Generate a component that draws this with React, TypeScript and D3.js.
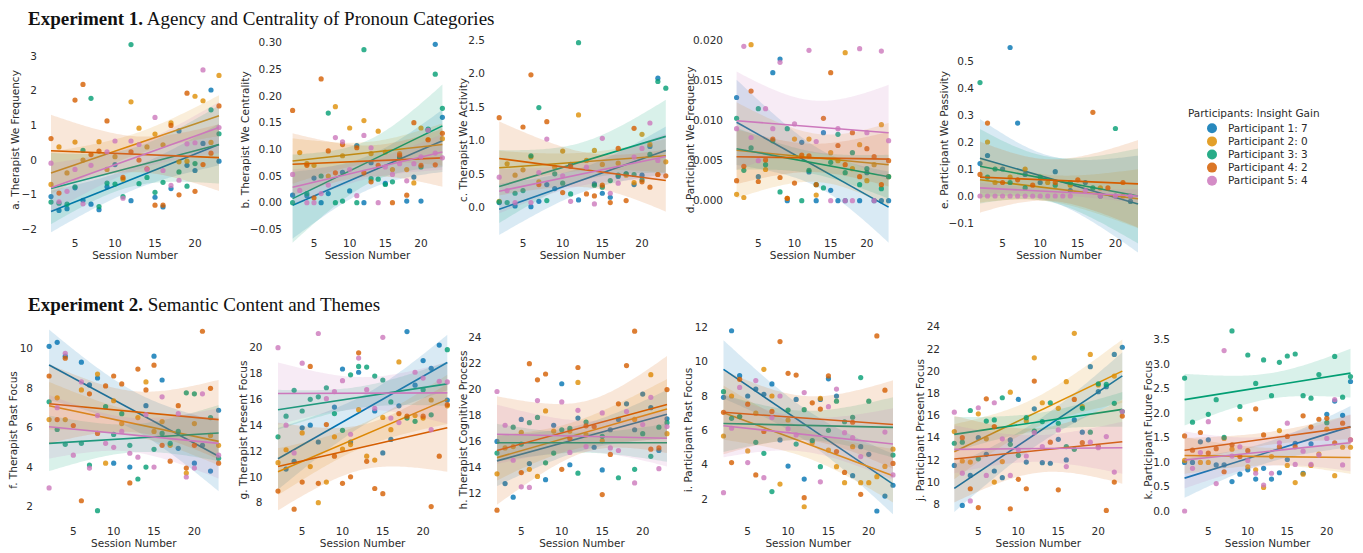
import React from 'react';
import * as d3 from 'd3';

// sessions 2..23, one value per session (null = no point read)
const SESSIONS = [2, 3, 4, 5, 6, 7, 8, 9, 10, 11, 12, 13, 14, 15, 16, 17, 18, 19, 20, 21, 22, 23];
const PARTICIPANTS = ['Participant 1: 7', 'Participant 2: 0', 'Participant 3: 3', 'Participant 4: 2', 'Participant 5: 4'];
const COLORS = ['#0173B2', '#DE8F05', '#029E73', '#D55E00', '#CC78BC'];
const X_TICKS = [5, 10, 15, 20];

type Row = (number | null)[];

// a. Therapist We Frequency
const A_VALUES: Row[] = [
  [-1.05, -1.45, -1.4, -0.8, -1.16, -1.27, -1.43, -0.77, -0.13, null, -1.17, null, null, -1.07, -1.35, -0.82, 0.84, -0.15, -0.3, 0.48, 2.02, -0.03],
  [-0.7, 0.38, -0.37, 0.52, 0, null, 0.53, -0.27, 0.1, -0.55, 1.68, 0.92, 0.38, 0.75, 0.44, 1.07, -0.05, -0.03, 1.84, 1.71, 0.51, 2.44],
  [-1.21, -1.24, -1.27, -0.77, 0.28, 1.78, -1.34, -0.66, -0.69, -1.05, 3.33, -0.68, -0.5, -0.93, -0.64, null, -0.34, -0.75, -0.1, null, 1.45, 0.76],
  [0.62, -0.95, null, 1.73, 2.18, 0.16, 0.26, 1.13, null, -0.5, 0.24, 0, -0.25, -1.3, -1.3, 1.0, -1.0, 1.93, -0.9, -0.13, 0.2, 1.56],
  [-0.09, -1.2, -0.9, -0.27, -1.26, -0.15, null, 0.24, 0.55, -1.1, 0.55, 0.45, -0.27, 1.23, -0.3, -0.73, -0.58, 0.47, 0.5, 2.6, null, 0.94],
];
const A_FIT = [[-1.48, 0.45], [-0.37, 1.28], [-0.82, 0.45], [0.27, 0.07], [-0.8, 0.94]];

// b. Therapist We Centrality
const B_VALUES: Row[] = [
  [0.014, null, 0.013, 0.046, 0, 0.017, null, 0.057, 0.022, 0.107, 0, 0.075, null, 0.036, null, 0.086, 0.003, 0.048, 0.003, 0.136, 0.297, 0.16],
  [null, 0.094, 0.073, 0.07, null, 0.05, 0.18, 0.088, 0.14, null, 0.154, 0.092, 0.134, 0.095, 0.062, 0.092, 0.062, 0.037, 0.14, 0.118, null, 0.12],
  [0, null, 0.017, null, 0.05, 0.168, 0, 0.003, null, 0, 0.287, 0.045, 0.044, 0.034, 0.039, 0.084, null, null, 0.067, 0.138, 0.241, 0.177],
  [0.173, null, 0.07, 0.009, 0.232, 0.097, 0.056, 0.109, null, 0.103, 0.056, 0.039, 0.07, null, 0, 0.089, 0.014, 0.15, 0.07, 0.118, 0.071, 0.13],
  [0.053, 0.023, 0, 0, 0.017, 0.033, 0.122, 0.114, 0.062, 0.013, 0.126, 0.103, 0, 0.067, 0.053, 0.073, 0.041, 0.073, 0.086, 0.136, 0.093, 0.084],
];
const B_FIT = [[-0.005, 0.116], [0.078, 0.109], [0.0075, 0.144], [0.072, 0.084], [0.029, 0.095]];

// c. Therapist We Activity
const C_VALUES: Row[] = [
  [0.07, null, 0.02, null, 0.01, 0.09, 0.34, 0.28, null, 0.64, 0.11, null, 0.35, 0.21, 0.15, 0.46, 0.5, 0.34, 0.48, 0.91, 1.93, null],
  [0.09, 0.65, 0.48, 0.56, 0.75, 0.38, null, 0.6, 0.84, null, 1.38, 0.7, 0.85, 0.64, null, 0.66, 0.48, 0.37, 1.09, 0.94, 0.49, 0.68],
  [0.08, 0.07, 0.21, 0.25, 0.77, 1.49, 0.1, 0.5, 0.36, 0.2, 2.46, null, 0.33, 0.3, 0.4, 0.48, 0.5, 0.49, 0.41, 0.79, 1.88, 1.78],
  [1.34, null, null, 1.2, 1.98, 0.34, 1.28, null, 0.22, 0.61, null, 0.2, 0.17, 0.33, 0.07, 0.88, 0.1, 1.18, 0.38, 0.3, 0.49, 0.47],
  [0.45, 0.25, 0.07, null, 0.07, 0.52, 1.02, null, 0.47, 0.09, null, 0.6, 0.05, 1.03, 0.21, 0.36, null, 0.75, 0.88, 1.26, 0.7, null],
];
const C_FIT = [[-0.03, 0.85], [0.59, 0.77], [0.31, 1.06], [0.73, 0.4], [0.24, 0.76]];

// d. Participant We Frequency
const D_VALUES: Row[] = [
  [0.0129, null, null, 0.003, null, 0.016, 0.0177, 0, null, 0.0073, 0.0036, 0, 0.0085, 0.0013, 0, 0, null, 0, 0.0035, 0, 0, 0],
  [0.0008, 0.0004, 0.0195, null, 0.0039, null, null, 0.0003, 0.0077, null, 0.0077, 0.0007, null, 0.006, 0.005, 0.0185, 0.004, 0.007, 0.0025, 0.0045, 0.0095, 0.003],
  [0.0103, 0.0038, 0.0066, 0.0115, 0.0045, 0.0075, 0.0011, 0.009, null, 0, 0.0038, 0.002, 0.0016, 0.0048, 0.0083, 0.0035, 0.006, 0.002, 0.004, null, 0.0015, 0.003],
  [0.0025, 0.0043, 0.0137, 0.0024, 0.0051, 0.0077, 0.0029, 0.0003, 0.0022, 0.0057, 0.0056, 0.002, 0.0103, 0.016, 0.0069, 0.0045, 0.0085, 0.003, 0.0065, 0.0055, 0.002, 0.005],
  [0.009, 0.0193, 0.0079, 0.005, 0.0115, 0.009, 0.0173, null, 0.0096, null, 0.0188, 0.0074, null, 0, 0.009, 0, 0, 0.019, 0.0085, 0, 0.0187, 0.0075],
];
const D_FIT = [[0.0098, -0.0008], [0.0063, 0.0045], [0.0065, 0.003], [0.0055, 0.0052], [0.01, 0.0085]];

// e. Participant We Passivity
const E_VALUES: Row[] = [
  [0.12, 0.15, null, 0.1, 0.55, 0.27, 0.08, null, 0.05, null, 0.09, null, 0.02, null, 0.05, null, 0, null, 0, null, -0.02, null],
  [null, 0.2, 0.05, null, 0.07, null, 0.1, null, null, 0.05, null, null, 0.04, null, null, null, 0.03, null, null, 0, null, null],
  [0.42, 0.07, 0.1, null, 0.05, null, 0.03, null, 0.07, null, 0.04, null, 0.05, null, null, 0.03, null, null, 0.25, null, 0, null],
  [0.08, 0.27, null, 0.05, null, 0.06, null, 0.04, null, null, 0.05, null, null, 0.06, null, 0.31, null, 0.03, null, 0.05, null, null],
  [0, 0, 0, 0, 0, 0, 0, 0, 0, 0, 0, 0, 0, null, 0.02, null, 0, null, 0, null, 0, null],
];
const E_FIT = [[0.14, -0.03], [0.06, -0.01], [0.11, 0], [0.07, 0.045], [0.03, 0]];

// f. Therapist Past Focus
const F_VALUES: Row[] = [
  [10.1, 10.3, 9.6, null, 9.3, 8.15, 8.5, null, 4.2, null, 4.0, null, 7.1, 9.6, 8.4, null, 4.95, null, 4.2, 5.1, 3.8, 6.87],
  [6.4, 7.5, 6.4, null, 7.9, null, 8.7, 4.2, 7.35, 6.2, null, 6.5, 8.3, 5.8, 6.3, 5.1, null, 3.7, 6.2, null, 5.6, 5.1],
  [7.3, 5.9, 5.15, null, 5.2, 4.1, 1.8, 7.05, 5.65, 6.7, 5.1, 3.4, 4.0, 4.9, 5.7, 5.2, 5.8, 7.75, 7.7, null, 6.5, 4.45],
  [8.6, 6.4, 9.5, 6.1, 2.3, 7.7, 5.7, 8.1, 8.6, 8.2, 3.2, 8.95, 7.9, 9.15, 5.1, 4.3, 7.1, 3.95, 5.1, 10.86, 7.98, 4.2],
  [2.95, 7.0, 9.75, 4.6, 8.3, 3.95, 6.6, 5.2, 5.0, 5.8, 4.7, 4.5, 6.65, 4.0, 7.55, null, 6.7, 3.5, 3.95, 7.7, null, 4.6],
];
const F_FIT = [[9.16, 4.55], [7.1, 5.3], [5.2, 5.72], [7.2, 6.4], [6.04, 5.2]];

// g. Therapist Present Focus
const G_VALUES: Row[] = [
  [null, 10.6, 11.2, 13.8, 14.0, 12.7, null, 15.4, 18.35, 12.7, 18.1, null, 15.1, 11.85, 12.9, 15.5, 21.25, 17.1, 19.0, 18.4, 20.2, 15.95],
  [11.1, 12.1, null, 13.4, 10.8, 8.0, 9.6, 13.1, 12.15, 12.5, 15.2, 11.6, 11.3, 14.6, 13.65, 18.9, null, 14.75, 14.55, 15.95, null, 15.5],
  [13.1, 14.7, 16.7, 15.1, 16.0, 16.2, 16.9, 14.9, 13.6, 17.9, 18.55, 18.5, 17.8, 17.5, 15.8, null, 14.55, 14.3, 16.75, 14.8, null, 19.85],
  [8.9, null, 7.5, 9.6, 18.55, 9.5, 14.05, 11.6, 9.5, 10.0, 19.6, 11.2, 9.1, 8.7, null, 14.9, 14.7, null, 14.7, 7.7, 11.6, 15.6],
  [20.0, 14.0, 11.85, 18.8, null, 21.1, 16.05, 16.6, 17.45, 13.3, 19.2, 16.75, 15.3, 20.8, 14.55, 14.2, null, 18.1, 17.65, 13.65, 17.4, 17.35],
];
const G_FIT = [[11.4, 18.85], [10.4, 16.0], [15.2, 17.2], [10.8, 13.8], [16.45, 16.5]];

// h. Therapist Cognitive Process
const H_VALUES: Row[] = [
  [16.0, 12.75, 11.7, 17.7, 14.3, null, 13.05, 17.25, 20.45, 14.2, 17.8, null, 15.55, 13.8, 16.9, 17.7, 18.9, 16.9, 19.65, 18.6, 15.3, 17.75],
  [13.5, 15.5, 15.6, 16.7, 13.85, 13.3, 18.35, 16.8, null, 16.8, 20.55, 16.5, null, 16.05, null, null, null, 17.7, null, 21.15, null, 16.6],
  [15.1, null, 17.1, 15.8, 17.45, 17.85, 14.35, 15.1, 16.9, 17.0, 13.55, 17.5, null, 16.4, null, 13.2, null, 13.85, 16.6, 14.85, 17.1, 17.45],
  [10.7, null, null, 13.6, 22.0, 20.75, 21.2, null, 13.85, 16.25, 21.7, 17.2, 17.15, 11.9, 15.0, 18.9, 21.85, 24.5, null, 15.4, 15.5, 20.0],
  [19.85, 17.25, 14.55, 12.5, 12.45, 19.15, null, null, 19.05, 15.15, 18.4, 15.6, null, 18.2, 15.5, 15.3, 18.3, 12.8, 17.3, 19.4, 13.9, 17.15],
];
const H_FIT = [[14.5, 18.1], [14.75, 18.5], [15.9, 15.9], [15.3, 18.85], [16.55, 16.25]];

// i. Participant Past Focus
const I_VALUES: Row[] = [
  [7.92, 11.8, 9.18, 8.0, 8.4, 8.1, 8.7, 5.44, 3.92, 7.8, 3.16, null, 7.8, 9.0, 8.0, null, 3.36, 5.05, 4.6, 1.3, 2.17, 2.8],
  [5.67, 8.0, 6.8, 4.8, 7.0, 9.55, 8.0, 2.87, 6.6, null, 1.55, 5.28, 7.86, 4.85, 3.88, 2.95, 5.05, 2.95, 2.95, 3.3, 3.9, 4.9],
  [8.25, 6.7, 6.8, null, 5.3, 4.66, 2.43, null, 7.18, 5.2, 7.2, 5.4, 3.88, 6.0, 7.7, 6.5, 6.76, 9.07, 7.7, null, null, 4.56],
  [7.05, 4.12, 8.97, 7.52, 3.4, 5.93, 7.1, 11.17, 9.32, 9.22, 2.08, 7.6, 7.24, 9.17, 4.76, 3.55, 6.47, 2.27, null, 11.5, 8.34, 4.07],
  [2.37, 6.12, 8.5, 4.12, 8.9, 3.24, 6.74, 8.0, 6.08, 5.73, 8.2, null, 3.0, 7.38, 8.4, 5.86, 5.57, 4.47, null, null, 5.9, 3.4],
];
const I_FIT = [[9.55, 2.87], [7.03, 3.36], [6.4, 6.17], [7.05, 6.34], [6.27, 5.2]];

// j. Participant Present Focus
const J_VALUES: Row[] = [
  [11.5, 7.9, 10.6, 14.0, 12.5, 11.0, 10.4, 13.8, 17.45, 11.8, 16.6, 11.75, 11.7, 13.85, 12.0, 15.6, 14.5, 20.4, 18.15, 18.6, 21.5, 22.15],
  [14.55, 11.9, 11.8, 16.15, 13.9, 10.0, 11.85, 18.1, null, 15.5, 21.2, 17.15, null, 16.65, 19.05, 23.4, 16.8, 21.5, 18.75, null, 19.55, null],
  [13.5, 13.6, 16.45, 12.1, 15.5, 15.6, 17.6, 13.4, 12.4, 15.8, 14.6, 15.45, 17.15, 15.3, 13.2, 12.95, 16.65, 14.5, 18.85, 18.8, 17.1, 16.35],
  [null, 14.0, 9.4, 7.7, 17.5, 15.0, null, 7.6, 10.25, 9.4, 19.1, null, 13.6, 9.3, null, 17.45, 13.55, null, 13.2, 7.45, 10.0, 15.95],
  [16.3, 10.8, 8.3, 16.7, 10.6, 17.15, 13.9, 10.6, 12.9, 12.35, 14.45, 13.2, null, 14.7, 11.4, null, null, 13.6, 13.1, 14.1, 10.9, 16.35],
];
const J_FIT = [[9.44, 19.57], [12.74, 20.0], [14.3, 16.55], [12.08, 13.63], [12.95, 13.1]];

// k. Participant Future Focus
const K_VALUES: Row[] = [
  [0.99, 0.99, 1.41, 1.45, 0.94, 0.94, 0.6, 0.75, 0.84, 0.65, 0.87, 0.65, 0.78, 1.05, 1.38, 0.77, 1.37, null, 1.97, 2.24, 1.95, 2.64],
  [1.03, null, 0.99, 0.99, null, 1.48, 1.26, 1.87, 0.9, 0.84, 0.48, 1.11, 1.64, 0.93, 0.58, 0.75, 0.93, 1.16, 1.67, 0.72, 1.3, 1.3],
  [2.71, 1.81, null, 1.97, 2.27, 1.5, 3.67, 2.13, 3.18, 2.6, 3.08, 2.35, 3.03, 3.16, 3.2, 2.35, 2.3, 2.78, 1.8, 3.15, 2.32, 2.74],
  [1.53, 1.24, 1.6, 1.18, 1.27, 0.8, 1.35, 1.11, 1.23, 2.08, 1.55, null, 1.31, 1.52, 1.31, 1.94, 1.71, 1.87, 1.89, 1.39, 1.79, 1.45],
  [0, 0.87, 1.19, 1.82, 0.56, 3.27, 1.12, 1.31, 1.03, 0.77, 0.53, 0.77, 1.39, 1.79, 0.95, 1.22, 0.95, 1.14, 1.48, 2.27, 0.94, 1.45],
];
const K_FIT = [[0.67, 1.72], [1.13, 1.09], [2.27, 2.81], [1.24, 1.71], [1.04, 1.39]];

const PANELS = [
  { label: 'a. Therapist We Frequency', values: A_VALUES, fit: A_FIT, ticks: [-2, -1, 0, 1, 2, 3], fmt: '' },
  { label: 'b. Therapist We Centrality', values: B_VALUES, fit: B_FIT, ticks: [-0.05, 0, 0.05, 0.1, 0.15, 0.2, 0.25, 0.3], fmt: '.2f' },
  { label: 'c. Therapist We Activity', values: C_VALUES, fit: C_FIT, ticks: [0, 0.5, 1, 1.5, 2, 2.5], fmt: '.1f' },
  { label: 'd. Participant We Frequency', values: D_VALUES, fit: D_FIT, ticks: [0, 0.005, 0.01, 0.015, 0.02], fmt: '.3f' },
  { label: 'e. Participant We Passivity', values: E_VALUES, fit: E_FIT, ticks: [-0.1, 0, 0.1, 0.2, 0.3, 0.4, 0.5], fmt: '.1f' },
  { label: 'f. Therapist Past Focus', values: F_VALUES, fit: F_FIT, ticks: [2, 4, 6, 8, 10], fmt: '' },
  { label: 'g. Therapist Present Focus', values: G_VALUES, fit: G_FIT, ticks: [8, 10, 12, 14, 16, 18, 20], fmt: '' },
  { label: 'h. Therapist Cognitive Process', values: H_VALUES, fit: H_FIT, ticks: [12, 14, 16, 18, 20, 22, 24], fmt: '' },
  { label: 'i. Participant Past Focus', values: I_VALUES, fit: I_FIT, ticks: [2, 4, 6, 8, 10, 12], fmt: '' },
  { label: 'j. Participant Present Focus', values: J_VALUES, fit: J_FIT, ticks: [8, 10, 12, 14, 16, 18, 20, 22, 24], fmt: '' },
  { label: 'k. Participant Future Focus', values: K_VALUES, fit: K_FIT, ticks: [0, 0.5, 1, 1.5, 2, 2.5, 3, 3.5], fmt: '.1f' },
];

// pixel layout of each axes: x range for sessions 2..23, two reference ticks for y
const LAYOUT = [
  { x0: 51, x1: 219, v0: 3, p0: 56, v1: -2, p1: 229.5, tickX: 37, labelX: 15, row: 0 },
  { x0: 292.6, x1: 442.4, v0: 0.3, p0: 42.7, v1: -0.05, p1: 229.3, tickX: 282, labelX: 245, row: 0 },
  { x0: 499.2, x1: 665.8, v0: 2.5, p0: 40, v1: 0, p1: 207.3, tickX: 485, labelX: 463, row: 0 },
  { x0: 736.6, x1: 888.6, v0: 0.02, p0: 40.7, v1: 0, p1: 200.7, tickX: 723, labelX: 690, row: 0 },
  { x0: 980, x1: 1138, v0: 0.5, p0: 61, v1: 0, p1: 196, tickX: 974, labelX: 944, row: 0 },
  { x0: 49.1, x1: 218.6, v0: 10, p0: 348.3, v1: 2, p1: 506.7, tickX: 33, labelX: 13, row: 1 },
  { x0: 278, x1: 447.3, v0: 20, p0: 347.7, v1: 8, p1: 502.7, tickX: 262.5, labelX: 243.3, row: 1 },
  { x0: 497, x1: 667, v0: 24, p0: 337.7, v1: 12, p1: 493.3, tickX: 481.5, labelX: 463.3, row: 1 },
  { x0: 723.5, x1: 893, v0: 12, p0: 327.3, v1: 2, p1: 499, tickX: 708, labelX: 688, row: 1 },
  { x0: 954.3, x1: 1122.3, v0: 24, p0: 326.7, v1: 8, p1: 504.3, tickX: 940, labelX: 920, row: 1 },
  { x0: 1184.6, x1: 1350.5, v0: 3.5, p0: 339.3, v1: 0, p1: 511, tickX: 1170, labelX: 1148.3, row: 1 },
];

const ROWS = [
  { tickY: 247, titleY: 259, labelY: 140 },
  { tickY: 535, titleY: 547, labelY: 430 },
];

const FONT = 'DejaVu Sans, sans-serif';
const TEXT = '#2b2b2b';

function points(row: Row) {
  return SESSIONS.map((s, i) => [s, row[i]] as [number, number | null]).filter((d) => d[1] !== null) as [number, number][];
}

// 95% confidence band of the fitted line, from the scatter around it
function band(pts: [number, number][], fit: number[]) {
  const slope = (fit[1] - fit[0]) / 21;
  const f = (s: number) => fit[0] + slope * (s - 2);
  const n = pts.length;
  const xbar = d3.mean(pts, (d) => d[0]) as number;
  const sxx = d3.sum(pts, (d) => (d[0] - xbar) ** 2);
  const sse = d3.sum(pts, (d) => (d[1] - f(d[0])) ** 2);
  const se = Math.sqrt(sse / (n - 2));
  const t = 2.09;
  return d3.range(2, 23.01, 0.25).map((s) => {
    const hw = t * se * Math.sqrt(1 / n + (s - xbar) ** 2 / sxx);
    return [s, f(s) - hw, f(s) + hw];
  });
}

function Panel({ spec, lay }: { spec: typeof PANELS[number]; lay: typeof LAYOUT[number] }) {
  const row = ROWS[lay.row];
  const x = d3.scaleLinear().domain([2, 23]).range([lay.x0, lay.x1]);
  const y = d3.scaleLinear().domain([lay.v0, lay.v1]).range([lay.p0, lay.p1]);
  const area = d3.area<number[]>().x((d) => x(d[0])).y0((d) => y(d[1])).y1((d) => y(d[2]));
  const line = d3.line<number[]>().x((d) => x(d[0])).y((d) => y(d[1]));
  const fmt = spec.fmt ? d3.format(spec.fmt) : (v: number) => String(v);
  const fmtTick = (v: number) => fmt(v).replace('-', '\u2212');
  return (
    <g>
      {spec.values.map((r, p) => {
        const pts = points(r);
        const fit = spec.fit[p];
        return (
          <g key={p}>
            {pts.map((d, i) => (
              <circle key={i} cx={x(d[0])} cy={y(d[1])} r={2.6} fill={COLORS[p]} fillOpacity={0.8} />
            ))}
            <path d={area(band(pts, fit)) || ''} fill={COLORS[p]} fillOpacity={0.15} />
            <path d={line([[2, fit[0]], [23, fit[1]]]) || ''} stroke={COLORS[p]} strokeWidth={1.6} fill="none" />
          </g>
        );
      })}
      {spec.ticks.map((t) => (
        <text key={t} x={lay.tickX} y={y(t)} dy="0.35em" textAnchor="end" fontSize={10.5} fontFamily={FONT} fill={TEXT}>
          {fmtTick(t)}
        </text>
      ))}
      {X_TICKS.map((t) => (
        <text key={t} x={x(t)} y={row.tickY} textAnchor="middle" fontSize={10.5} fontFamily={FONT} fill={TEXT}>
          {t}
        </text>
      ))}
      <text x={(lay.x0 + lay.x1) / 2} y={row.titleY} textAnchor="middle" fontSize={10.5} fontFamily={FONT} fill={TEXT}>
        Session Number
      </text>
      <text
        transform={`translate(${lay.labelX + 3.8},${row.labelY}) rotate(-90)`}
        textAnchor="middle"
        fontSize={10.5}
        fontFamily={FONT}
        fill={TEXT}
      >
        {spec.label}
      </text>
    </g>
  );
}

export default function App() {
  return (
    <svg width={1363} height={553} style={{ position: 'absolute', left: 0, top: 0, background: '#fff' }}>
      <text x={28} y={25} fontFamily="Liberation Serif, serif" fontSize={19} fill="#111">
        <tspan fontWeight="bold">Experiment 1.</tspan> Agency and Centrality of Pronoun Categories
      </text>
      <text x={28} y={311} fontFamily="Liberation Serif, serif" fontSize={19} fill="#111">
        <tspan fontWeight="bold">Experiment 2.</tspan> Semantic Content and Themes
      </text>
      {PANELS.map((spec, i) => (
        <Panel key={i} spec={spec} lay={LAYOUT[i]} />
      ))}
      <g>
        <text x={1188} y={117} fontSize={10.5} fontFamily={FONT} fill={TEXT}>
          Participants: Insight Gain
        </text>
        {PARTICIPANTS.map((name, i) => (
          <g key={name}>
            <circle cx={1212} cy={128.3 + i * 13.1} r={5} fill={COLORS[i]} fillOpacity={0.85} />
            <text x={1228} y={128.3 + i * 13.1} dy="0.35em" fontSize={10.5} fontFamily={FONT} fill={TEXT}>
              {name}
            </text>
          </g>
        ))}
      </g>
    </svg>
  );
}
